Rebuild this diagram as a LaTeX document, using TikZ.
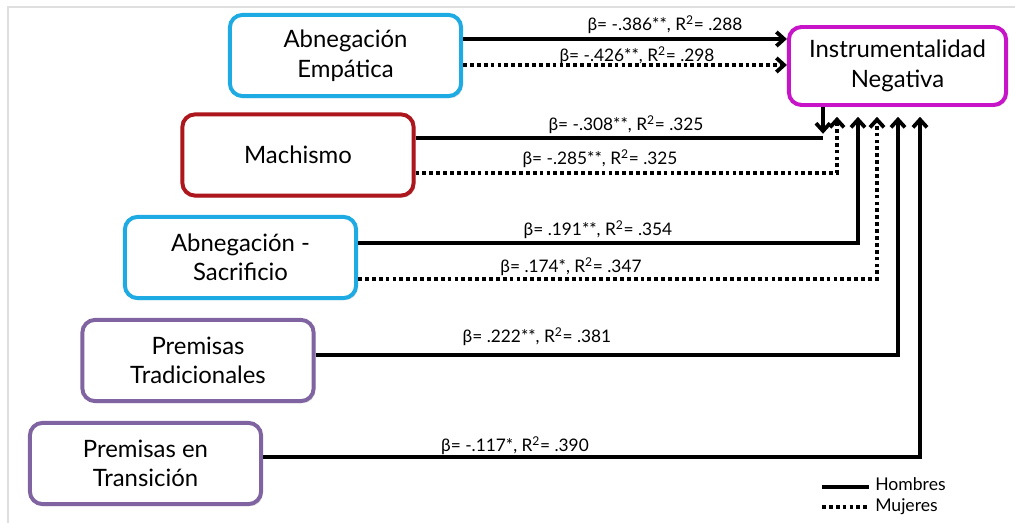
\documentclass[tikz,border=0pt]{standalone}
\usepackage{fontspec}
\setmainfont{Lato}
\usetikzlibrary{arrows.meta,shadows}
\definecolor{cian}{RGB}{30,170,226}
\definecolor{rojo}{RGB}{172,22,28}
\definecolor{morado}{RGB}{128,100,162}
\definecolor{fucsia}{RGB}{200,20,200}

\begin{document}
\begin{tikzpicture}[x=0.025cm, y=-0.025cm,
    caja/.style={draw, line width=2.8pt, rounded corners=9pt, fill=white,
      minimum width=5.78cm, minimum height=2.03cm, align=center,
      font=\fontsize{17}{21}\selectfont,
      drop shadow={shadow xshift=1.2pt, shadow yshift=-1.5pt, opacity=0.3}},
    hom/.style={line width=2.7pt},
    muj/.style={line width=2.7pt, dash pattern=on 2.7pt off 2.2pt},
    coef/.style={font=\fontsize{12.3}{14}\selectfont, inner sep=1pt},
    leyenda/.style={font=\fontsize{12.5}{14}\selectfont, anchor=west, inner sep=0pt},
    >={Straight Barb[length=5.5pt,width=10pt]}]
        \useasboundingbox (0,0) rectangle (1015,523);
        \draw[gray!25, line width=1.5pt] (8,523) -- (8,7) -- (1015,7);

        \node[caja, draw=cian] (AE) at (345.5,55.5) {Abnegación\\Empática};
        \node[caja, draw=rojo] (Mach) at (298,155) {Machismo};
        \node[caja, draw=cian] (AS) at (240.5,257.5) {Abnegación -\\Sacrificio};
        \node[caja, draw=morado] (PT) at (198,360.5) {Premisas\\Tradicionales};
        \node[caja, draw=morado] (PeT) at (145.5,463.5) {Premisas en\\Transición};
        \node[caja, draw=fucsia, minimum width=5.43cm, minimum height=1.95cm] (IN) at (897.5,66) {Instrumentalidad\\Negativa};

        \coordinate (c1) at (823,138);
        \coordinate (c2) at (837,173);
        \coordinate (c3) at (858,243);
        \coordinate (c4) at (877,279);
        \coordinate (c5) at (898,355);
        \coordinate (c6) at (920,457);

        \draw[hom,->] (AE.east |- 0,39) -- (IN.west |- 0,39);
        \draw[muj,->] (AE.east |- 0,65) -- (IN.west |- 0,65);
        \draw[hom] (Mach.east |- c1) -- (c1);
        \draw[hom,->,shorten >=3pt] (IN.south -| c1) -- (c1);
        \draw[muj,->,shorten >=7pt] (Mach.east |- c2) -| (IN.south -| c2);
        \draw[hom,->,shorten >=7pt] (AS.east |- c3) -| (IN.south -| c3);
        \draw[muj,->,shorten >=7pt] (AS.east |- c4) -| (IN.south -| c4);
        \draw[hom,->,shorten >=7pt] (PT.east |- c5) -| (IN.south -| c5);
        \draw[hom,->,shorten >=7pt] (PeT.east |- c6) -| (IN.south -| c6);

        \node[coef] (b1) at (665,25) {β= -.386**, R\textsuperscript{2}= .288};
        \node[coef] (b2) at (637,56) {β= -.426**, R\textsuperscript{2}= .298};
        \node[coef] (b3) at (626,125) {β= -.308**, R\textsuperscript{2}= .325};
        \node[coef] (b4) at (600,159) {β= -.285**, R\textsuperscript{2}= .325};
        \node[coef] (b5) at (598,230) {β= .191**, R\textsuperscript{2}= .354};
        \node[coef] (b6) at (571,267) {β= .174*, R\textsuperscript{2}= .347};
        \node[coef] (b7) at (537,337) {β= .222**, R\textsuperscript{2}= .381};
        \node[coef] (b8) at (515,446) {β= -.117*, R\textsuperscript{2}= .390};

        \node[leyenda] (lgH) at (875,484) {Hombres};
        \node[leyenda] (lgM) at (875,507) {Mujeres};
        \coordinate (lh) at (822,487);
        \coordinate (lm) at (822,507);
        \draw[hom, line width=3.2pt, shorten >=4pt] (lh) -- (lh -| lgH.west);
        \draw[muj, shorten >=4pt] (lm) -- (lm -| lgM.west);
    \end{tikzpicture}
\end{document}
